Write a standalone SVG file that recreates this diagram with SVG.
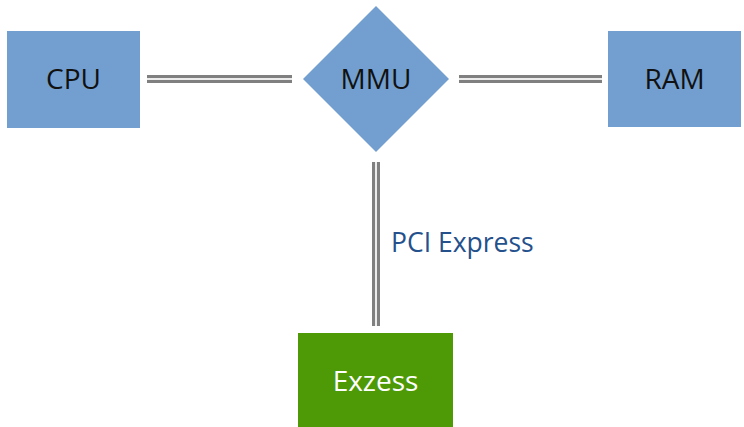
<svg xmlns="http://www.w3.org/2000/svg" width="744" height="427" viewBox="0 0 744 427">
  <style>
    .box { fill: #729fcf; }
    .gpu { fill: #4e9a06; }
    .lbl { font-family: "Open Sans", "Liberation Sans", sans-serif; font-size: 28px; text-anchor: middle; fill: #111; }
    .white { fill: #ffffff; }
    .outer { stroke: #808080; stroke-width: 8; fill: none; }
    .inner { stroke: #ececec; stroke-width: 2; fill: none; }
    .edge-label { font-family: "Open Sans", "Liberation Sans", sans-serif; font-size: 26.5px; fill: #24508c; }
  </style>

  <g id="connectors">
    <line class="outer" x1="147" y1="79" x2="292" y2="79"/>
    <line class="inner" x1="147" y1="79" x2="292" y2="79"/>
    <line class="outer" x1="459" y1="79" x2="602" y2="79"/>
    <line class="inner" x1="459" y1="79" x2="602" y2="79"/>
    <line class="outer" x1="376" y1="162" x2="376" y2="326"/>
    <line class="inner" x1="376" y1="162" x2="376" y2="326"/>
    <text class="edge-label" x="391" y="252">PCI Express</text>
  </g>

  <g id="cpu">
    <rect class="box" x="7" y="31" width="133" height="97"/>
    <text class="lbl" x="73.5" y="89">CPU</text>
  </g>

  <g id="mmu">
    <polygon class="box" points="376,6 449,79 376,152 303,79"/>
    <text class="lbl" x="376" y="89">MMU</text>
  </g>

  <g id="ram">
    <rect class="box" x="608" y="31" width="133" height="96"/>
    <text class="lbl" x="674.5" y="89">RAM</text>
  </g>

  <g id="exzess">
    <rect class="gpu" x="298" y="333" width="155" height="94"/>
    <text class="lbl white" x="375.5" y="391">Exzess</text>
  </g>
</svg>
